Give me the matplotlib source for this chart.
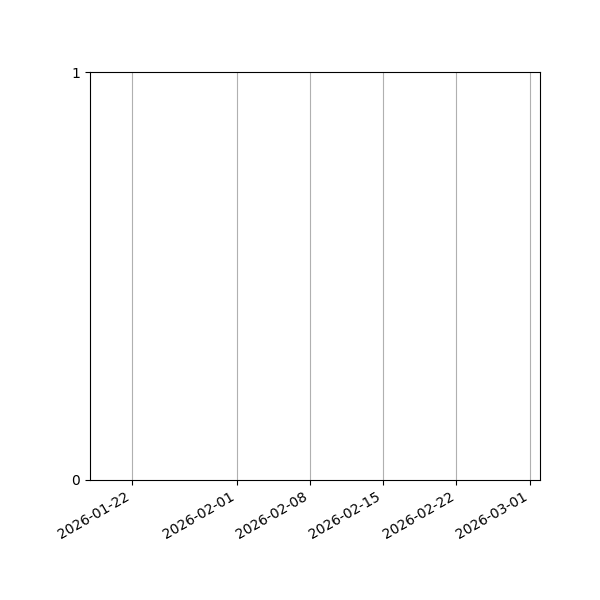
import numpy as np
import matplotlib
matplotlib.use("Agg")
import matplotlib.pyplot as plt
import matplotlib.dates as mdates

# tick dates shown on the x axis
tick_dates = np.array(["2026-01-22", "2026-02-01", "2026-02-08",
                       "2026-02-15", "2026-02-22", "2026-03-01"], dtype="datetime64[D]")
x_range = np.array(["2026-01-18", "2026-03-02"], dtype="datetime64[D]")
y_ticks = [0, 1]

fig, ax = plt.subplots(figsize=(6, 6), dpi=100)
ax.set_xlim(x_range[0], x_range[1])
ax.set_ylim(0, 1)
ax.set_xticks(tick_dates)
ax.xaxis.set_major_formatter(mdates.DateFormatter("%Y-%m-%d"))
ax.set_yticks(y_ticks)
ax.grid(axis="x", color="#b0b0b0", linewidth=0.8)
fig.autofmt_xdate()
fig.subplots_adjust(left=0.15, right=0.9, top=0.88, bottom=0.2)
fig.savefig("out.png", dpi=100)
